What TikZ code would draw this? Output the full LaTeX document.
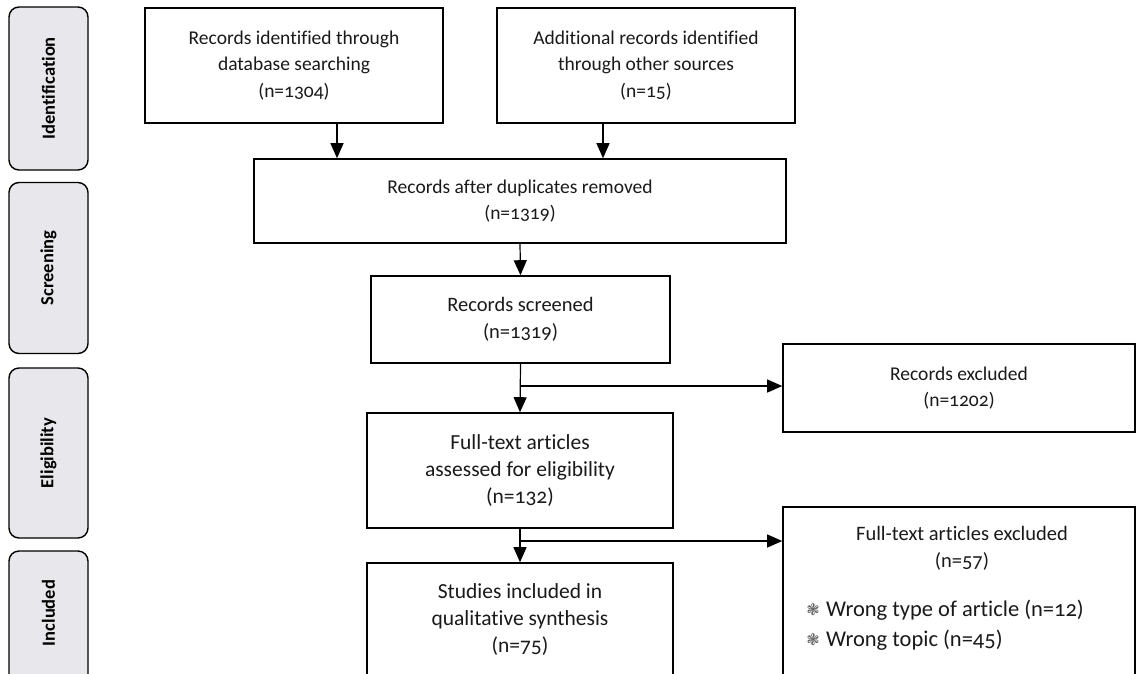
\documentclass[tikz,border=0pt]{standalone}
\usepackage{fontspec}
\setmainfont{Carlito}[Numbers=OldStyle, Ligatures=NoCommon]
\newfontfamily\symfont{DejaVu Sans}
\usetikzlibrary{arrows.meta}
\definecolor{stagefill}{HTML}{E7E7EC}
\definecolor{textc}{HTML}{1A1A1A}
\begin{document}
\begin{tikzpicture}[x=1pt,y=-1pt,
  box/.style={draw=black, line width=1.6pt, rectangle, inner sep=0pt, align=center,
    font=\fontsize{19.5}{26.5}\selectfont, text=textc},
  bigtext/.style={font=\fontsize{21.5}{27}\selectfont},
  txt/.style={inner sep=0pt, align=center, font=\fontsize{19.5}{26.5}\selectfont, text=textc},
  stage/.style={draw=black, line width=1.4pt, rounded corners=10pt, fill=stagefill,
    minimum width=79pt, inner sep=0pt},
  stagelabel/.style={rotate=90, inner sep=0pt, font=\fontsize{18.5}{18.5}\selectfont\bfseries, text=black},
  arr/.style={draw=black, line width=1.2pt, -{Triangle[width=13pt,length=15pt]}},
  bul/.style={font=\symfont\fontsize{16}{16}\selectfont, text=black!60},
]
\clip (0,0) rectangle (1137,673);
\fill[white] (0,0) rectangle (1137,673);

% stages
\node[stage, minimum height=163pt] (s1) at (48.5,88.5) {};
\node[stagelabel] (l1) at (s1) {Identification};
\node[stage, minimum height=171pt] (s2) at (48.5,268) {};
\node[stagelabel] (l2) at (s2) {Screening};
\node[stage, minimum height=170pt] (s3) at (48.5,453) {};
\node[stagelabel] (l3) at (s3) {Eligibility};
\node[stage, minimum height=170pt] (s4) at (48.5,636) {};
\node[stagelabel] (l4) at (48.5,613) {Included};

% main boxes
\node[box, minimum width=298pt, minimum height=115pt] (A) at (294,65.5)
  {Records identified through\\database searching\\(n=1304)};
\node[box, minimum width=298pt, minimum height=115pt] (B) at (646,65.5)
  {Additional records identified\\through other sources\\(n=15)};
\node[box, minimum width=532pt, minimum height=84pt] (C) at (520,201)
  {Records after duplicates removed\\(n=1319)};
\node[box, font=\fontsize{20.5}{26.5}\selectfont, minimum width=299pt, minimum height=87pt] (D) at (520.5,319.5)
  {Records screened\\(n=1319)};
\node[box, minimum width=352pt, minimum height=88pt] (RE) at (959,388)
  {Records excluded\\(n=1202)};
\node[box, bigtext, minimum width=306pt, minimum height=115pt] (E) at (520,470.5)
  {Full-text articles\\assessed for eligibility\\(n=132)};
\node[box, minimum width=352pt, minimum height=210pt] (FTE) at (959,612) {};
\node[txt, font=\fontsize{20.5}{26.5}\selectfont] (FTEt) at (962,548.5) {Full-text articles excluded\\(n=57)};
\node[bul, inner sep=0pt] (k1) at (813,610) {❃};
\node[txt, anchor=west, font=\fontsize{22.5}{27}\selectfont] (FTEb1) at (826,610)
  {Wrong type of article (n=12)};
\node[bul, inner sep=0pt] (k2) at (813,640) {❃};
\node[txt, anchor=west, font=\fontsize{22.5}{27}\selectfont] (FTEb2) at (826,640)
  {Wrong topic (n=45)};
\node[box, minimum width=306pt, minimum height=154pt] (F) at (520,640) {};
\node[txt, bigtext] (Ft) at (520,620) {Studies included in\\qualitative synthesis\\(n=75)};

% connectors
\draw[arr] ([xshift=43pt]A.south) -- ([xshift=43pt]A.south |- C.north);
\draw[arr] ([xshift=-43pt]B.south) -- ([xshift=-43pt]B.south |- C.north);
\draw[arr] (C.south) -- (D.north);
\draw[arr] (D.south) -- (E.north);
\coordinate (j1) at (520,386);
\draw[arr] (j1) -- (j1 -| RE.west);
\draw[arr] (E.south) -- (F.north);
\coordinate (j2) at (520,541);
\draw[arr] (j2) -- (j2 -| FTE.west);
\end{tikzpicture}
\end{document}
